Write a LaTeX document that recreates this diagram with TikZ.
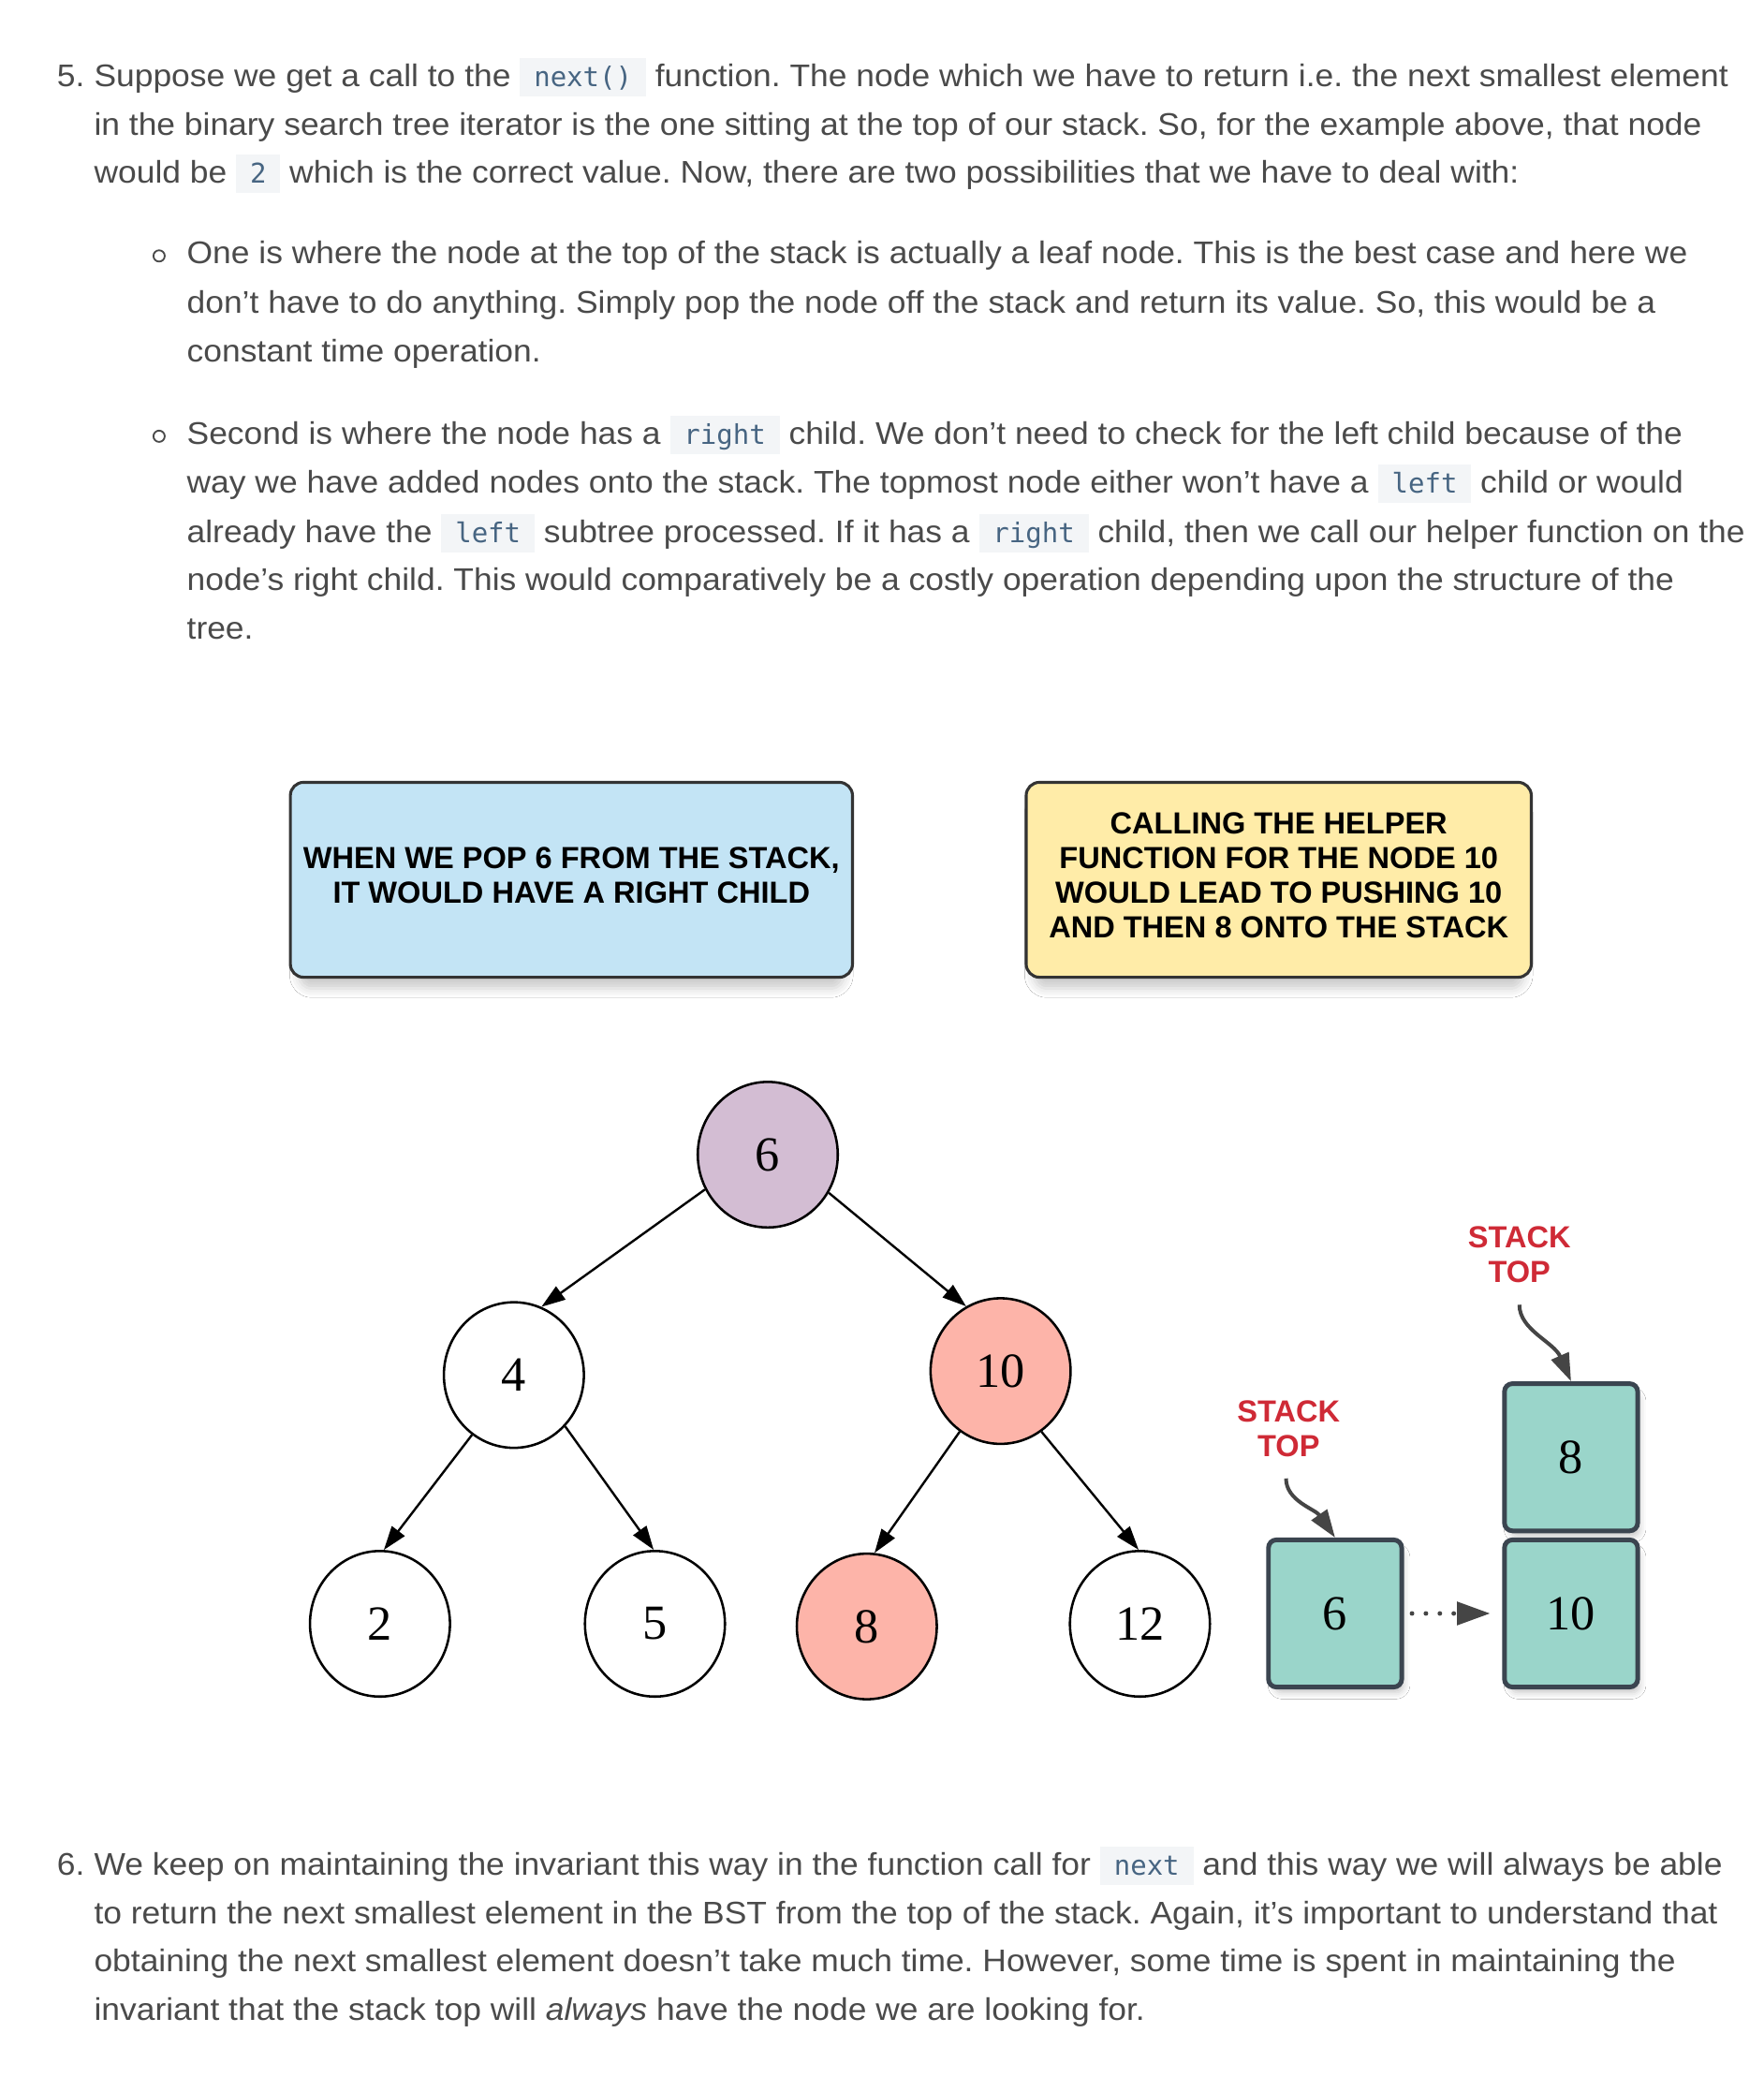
\documentclass[tikz,border=0pt]{standalone}
\usepackage{fontspec}
\setmainfont{Liberation Sans}[FakeStretch=1.06]
\newfontfamily\codefont{DejaVu Sans Mono}
\newfontfamily\comicfont{Liberation Sans}
\newfontfamily\numfont{Liberation Serif}
\usetikzlibrary{arrows.meta,shapes.geometric,shadows.blur}
\definecolor{bodytext}{HTML}{4A4A4A}
\definecolor{codefg}{HTML}{476582}
\definecolor{codebg}{HTML}{F3F5F7}
\definecolor{bluebox}{HTML}{C3E4F5}
\definecolor{yellowbox}{HTML}{FFECA8}
\definecolor{boxborder}{HTML}{333333}
\definecolor{purplenode}{HTML}{D3BDD3}
\definecolor{salmonnode}{HTML}{FDB4A9}
\definecolor{tealbox}{HTML}{9AD5CA}
\definecolor{tealborder}{HTML}{3B4550}
\definecolor{stackred}{HTML}{CF2A36}
\definecolor{arrowgray}{HTML}{454545}
\newcommand\bodysize{\fontsize{23.6}{36.6}\selectfont\frenchspacing}
\newcommand\cd[1]{{\setlength\fboxsep{0pt}\colorbox{codebg}{\rule[-7.5pt]{0pt}{29pt}\hspace{10.5pt}{\codefont\fontsize{20.5}{20}\selectfont\color{codefg}#1}\hspace{10.5pt}}}}
\begin{document}
\begin{tikzpicture}[x=1pt,y=-1pt,
  body/.style={anchor=base west, inner sep=0pt, outer sep=0pt, text=bodytext, font=\bodysize},
  bulletmark/.style={circle, draw=bodytext, line width=1.3pt, minimum size=8.5pt, inner sep=0pt},
  comicbox/.style={draw=boxborder, line width=2.2pt, rounded corners=10pt,
    blur shadow={shadow xshift=0pt, shadow yshift=-11pt, shadow scale=0.97, shadow blur radius=7pt, shadow opacity=20}},
  comictext/.style={align=center, font=\comicfont\bfseries\fontsize{23}{26}\selectfont, text=black, inner sep=0pt},
  tnode/.style={ellipse, draw=black, line width=1.8pt, minimum width=105.6pt, minimum height=109.8pt,
    inner sep=0pt, font=\numfont\fontsize{37}{37}\selectfont},
  tedge/.style={line width=1.7pt, -{Triangle[length=18pt,width=12pt]}},
  sbox/.style={rectangle, draw=tealborder, fill=tealbox, line width=3.5pt, rounded corners=6pt,
    minimum width=100.5pt, minimum height=111pt, inner sep=0pt, font=\numfont\fontsize{37}{37}\selectfont,
    blur shadow={shadow xshift=3pt, shadow yshift=-6pt, shadow scale=0.97, shadow blur radius=5pt, shadow opacity=22}},
  stacklabel/.style={align=center, text=stackred, inner sep=0pt,
    font=\comicfont\bfseries\fontsize{23}{26}\selectfont},
  toparrow/.style={draw=arrowgray, line width=2.8pt, -{Triangle[length=21pt,width=14pt]}},
  dotarrow/.style={draw=arrowgray, line width=3.5pt, line cap=round, dash pattern=on 0pt off 10.5pt,
    -{Triangle[length=25pt,width=17pt]}}
]
\fill[white] (0,0) rectangle (1330.5,1566.4);
\useasboundingbox (0,0) rectangle (1330.5,1566.4);

% paragraph 5
\node[body] (num5) at (43,65) {5.};
\node[body] (p5a) at (71,65) {Suppose we get a call to the \cd{next()} function. The node which we have to return i.e. the next smallest element};
\node[body] (p5b) at (71,102) {in the binary search tree iterator is the one sitting at the top of our stack. So, for the example above, that node};
\node[body] (p5c) at (71,138) {would be \cd{2} which is the correct value. Now, there are two possibilities that we have to deal with:};

% bullet 1
\node[bulletmark] (bul1) at (120,193) {};
\node[body] (b1a) at (141,199) {One is where the node at the top of the stack is actually a leaf node. This is the best case and here we};
\node[body] (b1b) at (141,236) {don't have to do anything. Simply pop the node off the stack and return its value. So, this would be a};
\node[body] (b1c) at (141,273) {constant time operation.};

% bullet 2
\node[bulletmark] (bul2) at (120,329) {};
\node[body] (b2a) at (141,335) {Second is where the node has a \cd{right} child. We don't need to check for the left child because of the};
\node[body] (b2b) at (141,372) {way we have added nodes onto the stack. The topmost node either won't have a \cd{left} child or would};
\node[body] (b2c) at (141,409) {already have the \cd{left} subtree processed. If it has a \cd{right} child, then we call our helper function on the};
\node[body] (b2d) at (141,445) {node's right child. This would comparatively be a costly operation depending upon the structure of the};
\node[body] (b2e) at (141,482) {tree.};

% comic boxes
\node[comicbox, fill=bluebox, minimum width=424pt, minimum height=147pt] (cbox1) at (431,663.5) {};
\node[comictext, yshift=3.5pt] (ctext1) at (cbox1.center)
  {WHEN WE POP 6 FROM THE STACK,\\IT WOULD HAVE A RIGHT CHILD};
\node[comicbox, fill=yellowbox, minimum width=381pt, minimum height=147pt] (cbox2) at (964.5,663.5) {};
\node[comictext, yshift=3.5pt] (ctext2) at (cbox2.center)
  {CALLING THE HELPER\\FUNCTION FOR THE NODE 10\\WOULD LEAD TO PUSHING 10\\AND THEN 8 ONTO THE STACK};

% tree
\node[tnode, fill=purplenode] (n6) at (579.1,870.8) {6};
\node[tnode, fill=white] (n4) at (387.6,1037) {4};
\node[tnode, fill=salmonnode] (n10) at (754.7,1034) {10};
\node[tnode, fill=white] (n2) at (286.6,1224.6) {2};
\node[tnode, fill=white] (n5) at (494,1224.6) {5};
\node[tnode, fill=salmonnode] (n8) at (653.8,1226.6) {8};
\node[tnode, fill=white] (n12) at (859.8,1224.6) {12};

\draw[tedge] (n6.209) -- (n4.68);
\draw[tedge] (n6.-32) -- (n10.118);
\draw[tedge] (n4.235) -- (n2.87);
\draw[tedge] (n4.-45) -- (n5.91);
\draw[tedge] (n10.236) -- (n8.84);
\draw[tedge] (n10.-56) -- (n12.91);

% stack
\node[sbox] (s6) at (1007,1216.8) {6};
\node[sbox] (s8) at (1185,1099) {8};
\node[sbox] (s10) at (1185,1216.8) {10};

\node[stacklabel] (lab1) at (972,1077.5) {STACK\\TOP};
\node[stacklabel] (lab2) at (1146,946) {STACK\\TOP};
\coordinate (c1) at (970,1115);
\coordinate (c2) at (1146,984);
\draw[toparrow] (c1) .. controls (970,1132) and (992,1138) .. (s6.north);
\draw[toparrow] (c2) .. controls (1146,1003) and (1172,1012) .. (s8.north);

\draw[dotarrow, shorten <=6pt, shorten >=9pt] (s6) -- (s10);

% paragraph 6
\node[body] (num6) at (43,1414) {6.};
\node[body] (p6a) at (71,1414) {We keep on maintaining the invariant this way in the function call for \cd{next} and this way we will always be able};
\node[body] (p6b) at (71,1451) {to return the next smallest element in the BST from the top of the stack. Again, it's important to understand that};
\node[body] (p6c) at (71,1487) {obtaining the next smallest element doesn't take much time. However, some time is spent in maintaining the};
\node[body] (p6d) at (71,1524) {invariant that the stack top will \textit{always} have the node we are looking for.};
\end{tikzpicture}
\end{document}
